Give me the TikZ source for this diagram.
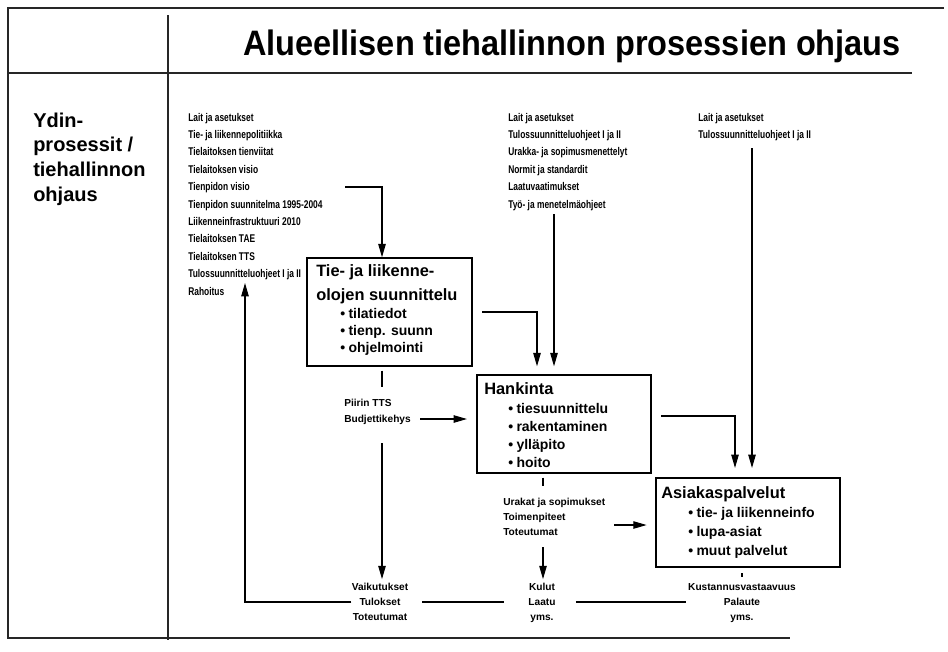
\documentclass[tikz,border=0pt]{standalone}
\usepackage{fontspec}
\setmainfont{Liberation Sans}
\newfontfamily\condensedsans[FakeStretch=0.75]{Liberation Sans}
\newfontfamily\headingsans[FakeStretch=0.92]{Liberation Sans}
\usetikzlibrary{arrows.meta}
\begin{document}
\begin{tikzpicture}[x=0.75pt,y=-0.75pt,
  frame/.style={line width=1pt, black!85},
  box/.style={draw, line width=1.1pt, inner sep=0pt},
  con/.style={line width=0.8pt},
  arr/.style={con, -{Triangle[length=10pt,width=5.6pt]}},
  lst/.style={font=\fontsize{7.6}{9}\selectfont\bfseries, inner sep=0pt, text height=5.4pt, text depth=0pt, anchor=west},
  doc/.style={font=\condensedsans\fontsize{8.4}{10}\selectfont\bfseries, inner sep=0pt, text height=6pt, text depth=0pt, anchor=west},
  ctr/.style={lst, anchor=center},
  btitle/.style={font=\fontsize{12.3}{14}\selectfont\bfseries, inner sep=0pt, text height=8.8pt, text depth=0pt, anchor=west},
  bul/.style={font=\fontsize{10.5}{12}\selectfont\bfseries, inner sep=0pt, text height=7.5pt, text depth=0pt, anchor=west},
  side/.style={font=\fontsize{15}{18}\selectfont\bfseries, inner sep=0pt, text height=10.8pt, text depth=0pt, anchor=west}]

\useasboundingbox (0,0) rectangle (948,651);

% page frame and dividers
\draw[frame] (944,8) -- (8,8) -- (8,638) -- (790,638);
\draw[frame] (8,73) -- (912,73);
\draw[frame] (168,15) -- (168,640);

% heading
\node[font=\headingsans\fontsize{26.5}{30}\selectfont\bfseries, inner sep=0pt, text height=19pt, text depth=0pt] (title) at (572,43) {Alueellisen tiehallinnon prosessien ohjaus};

% row label
\foreach \t [count=\i from 0] in {Ydin-, prosessit /, tiehallinnon, ohjaus}
  \node[side] (s\i) at (33,{120+24.7*\i}) {\t};

% steering documents
\foreach \t [count=\i] in {Lait ja asetukset, Tie- ja liikennepolitiikka, Tielaitoksen tienviitat, Tielaitoksen visio, Tienpidon visio, Tienpidon suunnitelma 1995-2004, Liikenneinfrastruktuuri 2010, Tielaitoksen TAE, Tielaitoksen TTS, Tulossuunnitteluohjeet I ja II, Rahoitus}
  \node[doc] (p\i) at (188,{117+17.4*(\i-1)}) {\t};
\foreach \t [count=\i] in {Lait ja asetukset, Tulossuunnitteluohjeet I ja II, Urakka- ja sopimusmenettelyt, Normit ja standardit, Laatuvaatimukset, Työ- ja menetelmäohjeet}
  \node[doc] (m\i) at (508,{117+17.4*(\i-1)}) {\t};
\foreach \t [count=\i] in {Lait ja asetukset, Tulossuunnitteluohjeet I ja II}
  \node[doc] (r\i) at (698,{117+17.4*(\i-1)}) {\t};

% process boxes
\node[box, minimum width=123.75pt, minimum height=81pt] (b1) at (389.5,312) {};
\node[box, minimum width=130.5pt, minimum height=73.5pt] (b2) at (564,424) {};
\node[box, minimum width=138pt, minimum height=66.75pt] (b3) at (748,522.5) {};

\node[btitle] (b1t1) at (316,271) {Tie- ja liikenne-};
\node[btitle] (b1t2) at (316,295) {olojen suunnittelu};
\foreach \t [count=\i from 0] in {tilatiedot, tienp. suunn, ohjelmointi}
  \node[bul] (b1b\i) at (340,{313+17*\i}) {\textbullet\hspace{2.5pt}\t};

\node[btitle] (b2t) at (484,389) {Hankinta};
\foreach \t [count=\i from 0] in {tiesuunnittelu, rakentaminen, ylläpito, hoito}
  \node[bul] (b2b\i) at (508,{408+18.3*\i}) {\textbullet\hspace{2.5pt}\t};

\node[btitle] (b3t) at (661,493) {Asiakaspalvelut};
\foreach \t [count=\i from 0] in {tie- ja liikenneinfo, lupa-asiat, muut palvelut}
  \node[bul] (b3b\i) at (688,{512+19*\i}) {\textbullet\hspace{2.5pt}\t};

% intermediate labels
\node[lst] (piir) at (344,403) {Piirin TTS};
\node[lst] (budj) at (344,419) {Budjettikehys};
\node[lst] (u1) at (503,502) {Urakat ja sopimukset};
\node[lst] (u2) at (503,517) {Toimenpiteet};
\node[lst] (u3) at (503,532) {Toteutumat};

% outcomes
\node[ctr] (vai) at (380,587) {Vaikutukset};
\node[ctr] (tul) at (380,602) {Tulokset};
\node[ctr] (tot) at (380,617) {Toteutumat};
\node[ctr] (kul) at (542,587) {Kulut};
\node[ctr] (laa) at (542,602) {Laatu};
\node[ctr] (ym1) at (542,617) {yms.};
\node[ctr] (kus) at (742,587) {Kustannusvastaavuus};
\node[ctr] (pal) at (742,602) {Palaute};
\node[ctr] (ym2) at (742,617) {yms.};

% column positions
\coordinate (j1) at (382,0);
\coordinate (j2) at (537,0);
\coordinate (j3) at (735,0);
\coordinate (j4) at (543,0);
\coordinate (j6) at (742,0);

% inputs from the steering documents
\coordinate (in1) at (345,187);
\draw[arr] (in1) -| (j1 |- b1.north);
\coordinate (in2) at (554,214);
\draw[arr, shorten >=6pt] (in2) -- (in2 |- b2.north);
\coordinate (in3) at (752,148);
\draw[arr, shorten >=7pt] (in3) -- (in3 |- b3.north);

% flows between the processes
\draw[arr, shorten <=7pt, shorten >=6pt] (b1.east) -| (j2 |- b2.north);
\draw[arr, shorten <=7pt, shorten >=7pt] ([yshift=6pt]b2.east) -| (j3 |- b3.north);

\draw[con, shorten <=3pt] (j1 |- b1.south) -- ++(0,20);
\draw[arr, shorten <=7pt, shorten >=7pt] (budj.east) -- (budj.east -| b2.west);
\coordinate (v1) at (382,443);
\draw[arr, shorten >=3pt] (v1) -- (v1 |- vai.north);

\draw[con, shorten <=3pt] (j4 |- b2.south) -- ++(0,12);
\coordinate (a5) at (614,525);
\draw[arr, shorten >=6.5pt] (a5) -- (a5 -| b3.west);
\coordinate (v2) at (543,547);
\draw[arr, shorten >=3pt] (v2) -- (v2 |- kul.north);

\draw[con, shorten <=4pt] (j6 |- b3.south) -- ++(0,9);

% feedback
\coordinate (fb) at (245,602);
\coordinate (fbt) at (245,283);
\draw[arr, shorten <=6pt] (tul.west) -- (fb) -- (fbt);
\draw[con, shorten <=16pt, shorten >=18pt] (tul.east) -- (laa.west);
\draw[con, shorten <=15pt, shorten >=28pt] (laa.east) -- (pal.west);
\end{tikzpicture}
\end{document}
